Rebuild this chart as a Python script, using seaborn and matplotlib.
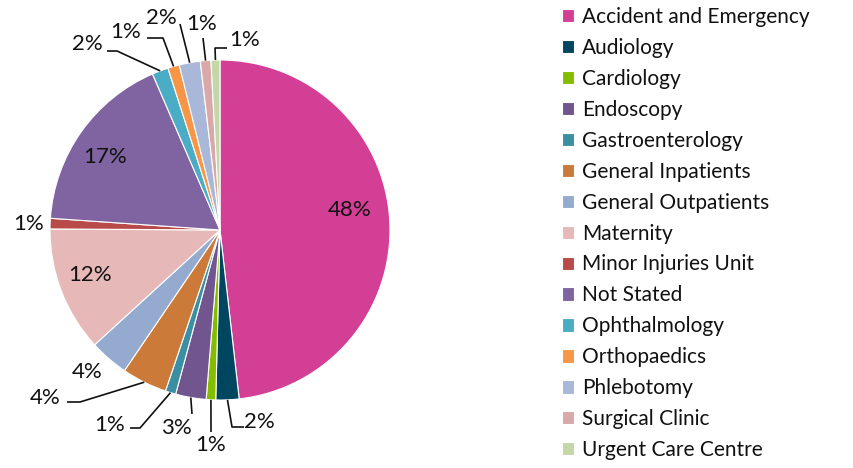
import matplotlib
matplotlib.use("Agg")
import matplotlib.pyplot as plt
import seaborn as sns
import numpy as np

categories = ["Accident and Emergency", "Audiology", "Cardiology", "Endoscopy",
              "Gastroenterology", "General Inpatients", "General Outpatients",
              "Maternity", "Minor Injuries Unit", "Not Stated", "Ophthalmology",
              "Orthopaedics", "Phlebotomy", "Surgical Clinic", "Urgent Care Centre"]
shares = [48.2, 2.2, 0.9, 2.9, 1.0, 4.3, 3.7, 11.9, 1.0, 17.4, 1.55, 1.1, 2.0, 1.0, 0.85]
colors = ["#D43F96", "#004660", "#84BD00", "#71558F", "#3A8FA3", "#CC7A3A",
          "#95AACF", "#E6B9B8", "#B84A4A", "#8064A2", "#4BACC6", "#F79646",
          "#A9B8D8", "#D9A8A8", "#C4D7A8"]

sns.set_theme(style="white")
plt.rcParams["font.family"] = ["Lato", "DejaVu Sans"]

W, H = 854, 468
fig = plt.figure(figsize=(W / 100, H / 100), dpi=100)
ax = fig.add_axes([0, 0, 1, 1])

cx, cy, R = 220, 230, 170  # pixel layout (y down)
wedges, _ = ax.pie(shares, colors=colors, startangle=90, counterclock=False,
                   center=(cx, H - cy), radius=R,
                   wedgeprops=dict(edgecolor="white", linewidth=0.8))
ax.set_xlim(0, W)
ax.set_ylim(0, H)
ax.set_aspect("equal")
ax.axis("off")

# label layout: text position (pixels, y down) and leader elbow points
layout = {
    0: ((350, 210), None),
    1: ((259, 422), [(244, 427), (232, 427)]),
    2: ((211, 445), [(211, 432)]),
    3: ((176, 428), [(192, 414)]),
    4: ((110, 425), [(130, 428), (140, 428)]),
    5: ((45, 398), [(67, 402), (80, 402)]),
    6: ((87, 372), None),
    7: ((90, 275), None),
    8: ((29, 224), None),
    9: ((105, 157), None),
    10: ((87, 44), [(107, 51), (117, 51)]),
    11: ((126, 32), [(147, 38), (163, 38)]),
    12: ((161, 18), [(180, 24)]),
    13: ((202, 24), [(203, 38)]),
    14: ((245, 40), [(227, 48), (215, 48)]),
}

for i, w in enumerate(wedges):
    (tx, ty), path = layout[i]
    pct = f"{round(shares[i])}%"
    ax.text(tx, H - ty, pct, ha="center", va="center", fontsize=16, color="#111111")
    if path:
        th = np.deg2rad((w.theta1 + w.theta2) / 2)
        ax_, ay_ = cx + R * np.cos(th), (H - cy) + R * np.sin(th)
        xs = [p[0] for p in path] + [ax_]
        ys = [H - p[1] for p in path] + [ay_]
        ax.plot(xs, ys, color="#111111", lw=1.2, solid_capstyle="butt")

leg = ax.legend(wedges, categories, loc="upper left", bbox_to_anchor=(562 / W, 1 - 7 / H),
                bbox_transform=fig.transFigure, frameon=False, fontsize=15,
                handlelength=0.6, handleheight=0.6, handletextpad=0.35,
                labelspacing=0.525, borderpad=0, borderaxespad=0)
for t in leg.get_texts():
    t.set_color("#111111")

fig.savefig("out.png", dpi=100)
